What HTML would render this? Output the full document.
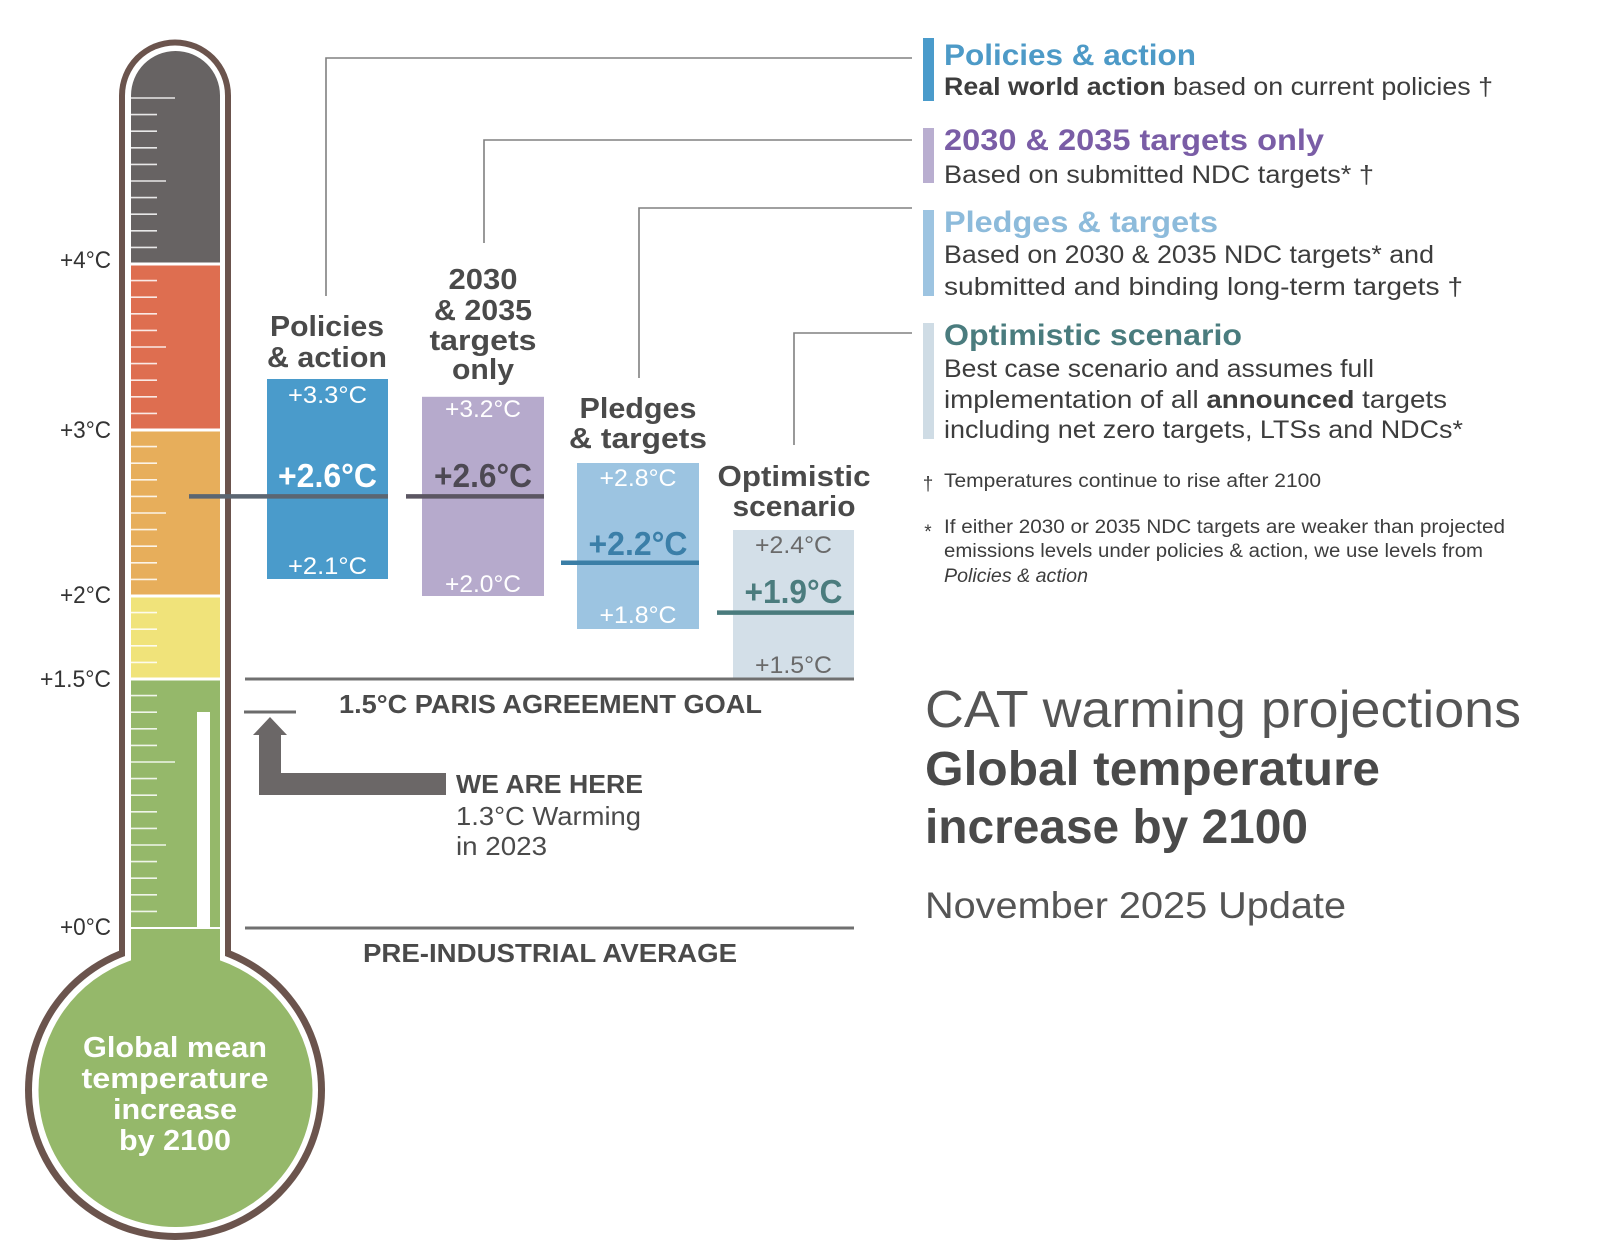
<!DOCTYPE html>
<html><head><meta charset="utf-8"><style>
html,body{margin:0;padding:0;background:#fff;}
svg{display:block;}
text{font-family:"Liberation Sans",Arial,sans-serif;}
</style></head><body>
<svg width="1618" height="1260" viewBox="0 0 1618 1260" xmlns="http://www.w3.org/2000/svg">
<defs>
<clipPath id="inner">
  <path d="M131,95.5 A44.5,44.5 0 0 1 220,95.5 L220,1000 L131,1000 Z"/>
  <circle cx="175.5" cy="1090" r="137"/>
</clipPath>
</defs>
<rect width="1618" height="1260" fill="#fff"/>

<!-- Thermometer outline -->
<path d="M119,95.5 A56,56 0 0 1 231,95.5 L231,1000 L119,1000 Z" fill="#6b544d"/>
<circle cx="175" cy="1090" r="150" fill="#6b544d"/>
<path d="M125,95.5 A50,50 0 0 1 225,95.5 L225,1000 L125,1000 Z" fill="#fff"/>
<circle cx="175" cy="1090" r="143" fill="#fff"/>
<g clip-path="url(#inner)">
  <rect x="0" y="0" width="400" height="264" fill="#676363"/>
  <rect x="0" y="264" width="400" height="166" fill="#de6e50"/>
  <rect x="0" y="430" width="400" height="166" fill="#e7ae5b"/>
  <rect x="0" y="596" width="400" height="83" fill="#f0e37a"/>
  <rect x="0" y="679" width="400" height="600" fill="#95b86a"/>
</g>
<!-- separators -->
<g fill="#fff">
  <rect x="131" y="262.5" width="89" height="3"/>
  <rect x="131" y="428.5" width="89" height="3"/>
  <rect x="131" y="594.5" width="89" height="3"/>
  <rect x="131" y="677.5" width="89" height="3"/>
  <rect x="131" y="927" width="89" height="2"/>
  <rect x="197" y="712" width="13" height="216"/>
</g>
<!-- ticks -->
<path stroke="rgba(255,255,255,0.85)" stroke-width="1.6" fill="none" d="
M131,911.4h26 M131,894.8h26 M131,878.2h26 M131,861.6h26 M131,845h35
M131,828.4h26 M131,811.8h26 M131,795.2h26 M131,778.6h26 M131,762h44
M131,745.4h26 M131,728.8h26 M131,712.2h26 M131,695.6h26
M131,662.4h26 M131,645.8h26 M131,629.2h26 M131,612.6h26
M131,579.4h26 M131,562.8h26 M131,546.2h26 M131,529.6h26 M131,513h35
M131,496.4h26 M131,479.8h26 M131,463.2h26 M131,446.6h26
M131,413.4h26 M131,396.8h26 M131,380.2h26 M131,363.6h26 M131,347h35
M131,330.4h26 M131,313.8h26 M131,297.2h26 M131,280.6h26
M131,247.4h26 M131,230.8h26 M131,214.2h26 M131,197.6h26 M131,181h35
M131,164.4h26 M131,147.8h26 M131,131.2h26 M131,114.6h26 M131,98h44"/>

<!-- Thermometer labels -->
<g font-size="24" fill="#333" text-anchor="end">
  <text x="111" y="268" textLength="51" lengthAdjust="spacingAndGlyphs">+4°C</text>
  <text x="111" y="438" textLength="51" lengthAdjust="spacingAndGlyphs">+3°C</text>
  <text x="111" y="603" textLength="51" lengthAdjust="spacingAndGlyphs">+2°C</text>
  <text x="111" y="687" textLength="71" lengthAdjust="spacingAndGlyphs">+1.5°C</text>
  <text x="111" y="935" textLength="51" lengthAdjust="spacingAndGlyphs">+0°C</text>
</g>

<!-- Bulb text -->
<g font-size="29" font-weight="bold" fill="#fff" text-anchor="middle">
  <text x="175" y="1057" textLength="184" lengthAdjust="spacingAndGlyphs">Global mean</text>
  <text x="175" y="1088" textLength="187" lengthAdjust="spacingAndGlyphs">temperature</text>
  <text x="175" y="1119" textLength="124" lengthAdjust="spacingAndGlyphs">increase</text>
  <text x="175" y="1150" textLength="112" lengthAdjust="spacingAndGlyphs">by 2100</text>
</g>

<!-- Connector lines -->
<g stroke="#808080" stroke-width="1.6" fill="none">
  <path d="M326,296 V58 H912"/>
  <path d="M484,243 V140 H912"/>
  <path d="M639,378 V208 H912"/>
  <path d="M794,445 V333 H912"/>
</g>

<!-- Boxes -->
<rect x="267" y="379" width="121" height="200" fill="#4a9bcb"/>
<rect x="422" y="396.8" width="122" height="199.2" fill="#b6aacc"/>
<rect x="577" y="463" width="122" height="166" fill="#9cc4e1"/>
<rect x="733" y="530" width="121" height="149" fill="#d3dfe8"/>

<!-- Median lines -->
<line x1="189" y1="496.4" x2="388" y2="496.4" stroke="#5b6672" stroke-width="4.5"/>
<line x1="406" y1="496.4" x2="544" y2="496.4" stroke="#5b5662" stroke-width="4.5"/>
<line x1="561" y1="562.8" x2="699" y2="562.8" stroke="#3a7ea6" stroke-width="4.5"/>
<line x1="717" y1="612.6" x2="854" y2="612.6" stroke="#4a7b7d" stroke-width="4.5"/>

<!-- Bar titles -->
<g font-size="29" font-weight="bold" fill="#4a4a4a" text-anchor="middle">
  <text x="327" y="336" textLength="114" lengthAdjust="spacingAndGlyphs">Policies</text>
  <text x="327" y="367" textLength="120" lengthAdjust="spacingAndGlyphs">&amp; action</text>
  <text x="483" y="289" textLength="69" lengthAdjust="spacingAndGlyphs">2030</text>
  <text x="483" y="320" textLength="98" lengthAdjust="spacingAndGlyphs">&amp; 2035</text>
  <text x="483" y="350" textLength="107" lengthAdjust="spacingAndGlyphs">targets</text>
  <text x="483" y="379" textLength="62" lengthAdjust="spacingAndGlyphs">only</text>
  <text x="638" y="418" textLength="117" lengthAdjust="spacingAndGlyphs">Pledges</text>
  <text x="638" y="448" textLength="138" lengthAdjust="spacingAndGlyphs">&amp; targets</text>
  <text x="794" y="486" textLength="153" lengthAdjust="spacingAndGlyphs">Optimistic</text>
  <text x="794" y="516" textLength="123" lengthAdjust="spacingAndGlyphs">scenario</text>
</g>

<!-- Box values -->
<g font-size="24" text-anchor="middle">
  <text x="327.5" y="403" fill="#fff" textLength="79" lengthAdjust="spacingAndGlyphs">+3.3°C</text>
  <text x="327.5" y="574" fill="#fff" textLength="79" lengthAdjust="spacingAndGlyphs">+2.1°C</text>
  <text x="483" y="417" fill="#fff" textLength="76" lengthAdjust="spacingAndGlyphs">+3.2°C</text>
  <text x="483" y="592" fill="#fff" textLength="76" lengthAdjust="spacingAndGlyphs">+2.0°C</text>
  <text x="638" y="486" fill="#fff" textLength="77" lengthAdjust="spacingAndGlyphs">+2.8°C</text>
  <text x="638" y="623" fill="#fff" textLength="77" lengthAdjust="spacingAndGlyphs">+1.8°C</text>
  <text x="793.5" y="553" fill="#6a6a6a" textLength="77" lengthAdjust="spacingAndGlyphs">+2.4°C</text>
  <text x="793.5" y="673" fill="#6a6a6a" textLength="77" lengthAdjust="spacingAndGlyphs">+1.5°C</text>
</g>
<g font-size="33" font-weight="bold" text-anchor="middle">
  <text x="327.5" y="487" fill="#fff" textLength="99" lengthAdjust="spacingAndGlyphs">+2.6°C</text>
  <text x="483" y="487" fill="#4d4953" textLength="98" lengthAdjust="spacingAndGlyphs">+2.6°C</text>
  <text x="638" y="555" fill="#3b7fa8" textLength="99" lengthAdjust="spacingAndGlyphs">+2.2°C</text>
  <text x="793.5" y="603" fill="#4b7c7e" textLength="98" lengthAdjust="spacingAndGlyphs">+1.9°C</text>
</g>

<!-- Reference lines -->
<line x1="245" y1="679" x2="854" y2="679" stroke="#707070" stroke-width="3"/>
<line x1="245" y1="928" x2="854" y2="928" stroke="#707070" stroke-width="3"/>
<line x1="244" y1="712" x2="296" y2="712" stroke="#6b6b6b" stroke-width="3"/>

<!-- Arrow -->
<polygon points="270,717 287,735 281,735 281,773 446,773 446,795 259,795 259,735 253,735" fill="#6b6767"/>

<g font-size="26" fill="#4a4a4a">
  <text x="550.5" y="713" font-weight="bold" text-anchor="middle" textLength="423" lengthAdjust="spacingAndGlyphs">1.5°C PARIS AGREEMENT GOAL</text>
  <text x="456" y="793" font-weight="bold" textLength="187" lengthAdjust="spacingAndGlyphs">WE ARE HERE</text>
  <text x="456" y="825" textLength="185" lengthAdjust="spacingAndGlyphs">1.3°C Warming</text>
  <text x="456" y="855" textLength="91" lengthAdjust="spacingAndGlyphs">in 2023</text>
  <text x="550" y="962" font-weight="bold" text-anchor="middle" textLength="374" lengthAdjust="spacingAndGlyphs">PRE-INDUSTRIAL AVERAGE</text>
</g>

<!-- Legend bars -->
<rect x="923" y="38" width="11" height="63" fill="#4a9bcb"/>
<rect x="923" y="128" width="11" height="55" fill="#b9aed0"/>
<rect x="923" y="210" width="11" height="86" fill="#9dc4e1"/>
<rect x="923" y="323" width="11" height="116" fill="#cfdce5"/>

<!-- Legend text -->
<g font-size="30" font-weight="bold">
  <text x="944" y="65" fill="#4d9ac7" textLength="252" lengthAdjust="spacingAndGlyphs">Policies &amp; action</text>
  <text x="944" y="150" fill="#7a5da6" textLength="380" lengthAdjust="spacingAndGlyphs">2030 &amp; 2035 targets only</text>
  <text x="944" y="232" fill="#8dbbdb" textLength="274" lengthAdjust="spacingAndGlyphs">Pledges &amp; targets</text>
  <text x="944" y="345" fill="#4a7c7e" textLength="298" lengthAdjust="spacingAndGlyphs">Optimistic scenario</text>
</g>
<g font-size="25" fill="#3d3d3d">
  <text x="944" y="95" textLength="549" lengthAdjust="spacingAndGlyphs"><tspan font-weight="bold">Real world action</tspan> based on current policies †</text>
  <text x="944" y="183" textLength="430" lengthAdjust="spacingAndGlyphs">Based on submitted NDC targets* †</text>
  <text x="944" y="263" textLength="490" lengthAdjust="spacingAndGlyphs">Based on 2030 &amp; 2035 NDC targets* and</text>
  <text x="944" y="295" textLength="519" lengthAdjust="spacingAndGlyphs">submitted and binding long-term targets †</text>
  <text x="944" y="377" textLength="430" lengthAdjust="spacingAndGlyphs">Best case scenario and assumes full</text>
  <text x="944" y="408" textLength="503" lengthAdjust="spacingAndGlyphs">implementation of all <tspan font-weight="bold">announced</tspan> targets</text>
  <text x="944" y="438" textLength="519" lengthAdjust="spacingAndGlyphs">including net zero targets, LTSs and NDCs*</text>
</g>
<g font-size="19" fill="#3d3d3d">
  <text x="928" y="490" text-anchor="middle">†</text>
  <text x="944" y="487" textLength="377" lengthAdjust="spacingAndGlyphs">Temperatures continue to rise after 2100</text>
  <text x="928" y="538" text-anchor="middle">*</text>
  <text x="944" y="533" textLength="561" lengthAdjust="spacingAndGlyphs">If either 2030 or 2035 NDC targets are weaker than projected</text>
  <text x="944" y="557" textLength="539" lengthAdjust="spacingAndGlyphs">emissions levels under policies &amp; action, we use levels from</text>
  <text x="944" y="582" font-style="italic" textLength="144" lengthAdjust="spacingAndGlyphs">Policies &amp; action</text>
</g>

<!-- Title block -->
<text x="925" y="727" font-size="52" fill="#555" textLength="596" lengthAdjust="spacingAndGlyphs">CAT warming projections</text>
<text x="925" y="785" font-size="48" font-weight="bold" fill="#4a4a4a" textLength="455" lengthAdjust="spacingAndGlyphs">Global temperature</text>
<text x="925" y="843" font-size="48" font-weight="bold" fill="#4a4a4a" textLength="383" lengthAdjust="spacingAndGlyphs">increase by 2100</text>
<text x="925" y="918" font-size="37" fill="#555" textLength="421" lengthAdjust="spacingAndGlyphs">November 2025 Update</text>
</svg>
</body></html>
